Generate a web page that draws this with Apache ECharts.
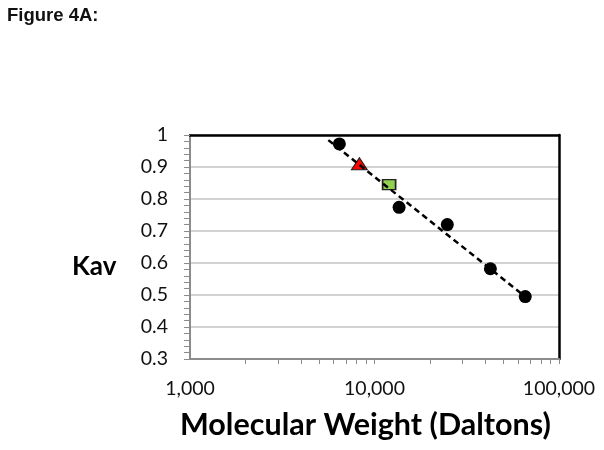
<!DOCTYPE html>
<html>
<head>
<meta charset="utf-8">
<script src="https://cdn.jsdelivr.net/npm/echarts@6/dist/echarts.min.js"></script>
<style>html,body{margin:0;padding:0;background:#fff}#c{width:604px;height:450px}</style>
</head>
<body>
<div id="c"></div>
<script>
// Data
const standards = [[6450, 0.972], [13590, 0.774], [24810, 0.72], [42480, 0.582], [65620, 0.495]];
const unknownTriangle = [[8280, 0.91]];
const unknownSquare = [[12000, 0.845]];
const trendLine = [[5620, 0.984], [65620, 0.495]];
const xTickValues = [1000, 2000, 3000, 4000, 5000, 6000, 7000, 8000, 9000,
  10000, 20000, 30000, 40000, 50000, 60000, 70000, 80000, 90000, 100000];
const yMin = 0.3, yMax = 1, yStep = 0.1;
const xMin = 1000, xMax = 100000;

const chart = echarts.init(document.getElementById('c'), null, {renderer: 'canvas'});
const axisGray = '#8c8c8c';
chart.setOption({
  backgroundColor: '#fff',
  animation: false,
  grid: {left: 190, top: 135, right: 45, bottom: 91, containLabel: false},
  graphic: [
    {type: 'text', left: 7, top: 6, style: {text: 'Figure 4A:', font: 'bold 18.5px "Liberation Sans", Arial', fill: '#111'}},
    {type: 'text', left: 72, top: 254, style: {text: 'Kav', font: 'bold 26px Lato', fill: '#000'}},
    {type: 'text', left: 180, top: 410, style: {text: 'Molecular Weight (Daltons)', font: 'bold 30.5px Lato', fill: '#000'}}
  ],
  xAxis: [{
    type: 'log', logBase: 10, min: xMin, max: xMax, position: 'bottom',
    axisLine: {show: true, lineStyle: {color: axisGray, width: 2}},
    axisTick: {show: true, length: 5, customValues: xTickValues, lineStyle: {color: axisGray, width: 1}},
    axisLabel: {margin: 20, color: '#111', fontFamily: 'Lato', fontSize: 19.5,
      formatter: v => Number(v).toLocaleString('en-US')},
    splitLine: {show: false}
  }, {
    type: 'value', position: 'top', min: 0, max: 1,
    axisLine: {show: true, lineStyle: {color: '#000', width: 2.5}},
    axisTick: {show: false}, axisLabel: {show: false}, splitLine: {show: false}
  }],
  yAxis: [{
    type: 'value', min: yMin, max: yMax, interval: yStep,
    axisLine: {show: true, lineStyle: {color: axisGray, width: 2}},
    axisTick: {show: true, length: 6, lineStyle: {color: axisGray, width: 1}},
    minorTick: {show: true, splitNumber: 5, length: 6, lineStyle: {color: axisGray, width: 1}},
    axisLabel: {margin: 22, color: '#111', fontFamily: 'Lato', fontSize: 19.5},
    splitLine: {show: true, lineStyle: {color: '#c4c4c4', width: 1.5}}
  }, {
    type: 'value', position: 'right', min: 0, max: 1,
    axisLine: {show: true, lineStyle: {color: '#000', width: 2.5}},
    axisTick: {show: false}, axisLabel: {show: false}, splitLine: {show: false}
  }],
  series: [
    {type: 'scatter', data: standards, symbol: 'circle', symbolSize: 13,
      itemStyle: {color: '#000', opacity: 1}, z: 3},
    {type: 'scatter', data: unknownTriangle, symbol: 'triangle', symbolSize: [16, 12],
      itemStyle: {color: '#ff0000', borderColor: '#222', borderWidth: 1, opacity: 1}, z: 3},
    {type: 'scatter', data: unknownSquare, symbol: 'rect', symbolSize: [13, 10],
      itemStyle: {color: '#92d050', borderColor: '#222', borderWidth: 1.5, opacity: 1}, z: 3},
    {type: 'line', data: trendLine, symbol: 'none', z: 4,
      lineStyle: {color: '#000', width: 2.5, type: [6, 4]}}
  ]
});
</script>
</body>
</html>
